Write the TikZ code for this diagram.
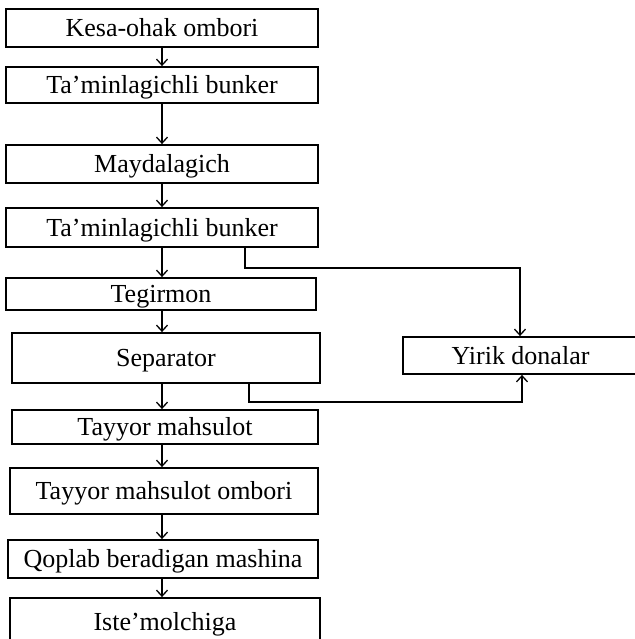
\documentclass[tikz,border=0pt]{standalone}
\usepackage{fontspec}
\setmainfont{Liberation Serif}
\usetikzlibrary{arrows.meta}
\begin{document}
\begin{tikzpicture}[x=1pt,y=1pt,
  box/.style={draw, line width=1.8pt, rectangle, inner sep=0pt, align=center,
    text height=21pt, text depth=3pt,
    font=\fontsize{26}{30}\selectfont},
  flow/.style={line width=1.3pt, -{Straight Barb[length=6pt,width=11pt,line width=1.3pt]}},
  bypass/.style={line width=1.8pt, -{Straight Barb[length=6pt,width=11pt,line width=1.3pt]}}]
\useasboundingbox (0,0) rectangle (634,639);

% process chain (left column)
\node[box, minimum width=312, minimum height=38] (b1) at (162,611) {Kesa-ohak ombori};
\node[box, minimum width=312, minimum height=36] (b2) at (162,554) {Ta'minlagichli bunker};
\node[box, minimum width=312, minimum height=38] (b3) at (162,475) {Maydalagich};
\node[box, minimum width=312, minimum height=39] (b4) at (162,411.5) {Ta'minlagichli bunker};
\node[box, minimum width=310, minimum height=32] (b5) at (161,345) {Tegirmon};
\node[box, minimum width=308, minimum height=50] (b6) at (166,281) {Separator};
\node[box, minimum width=306, minimum height=34] (b7) at (165,212) {Tayyor mahsulot};
\node[box, minimum width=308, minimum height=46] (b8) at (164,148) {Tayyor mahsulot ombori};
\node[box, minimum width=310, minimum height=38] (b9) at (163,80) {Qoplab beradigan mashina};
\node[box, minimum width=310, minimum height=47] (b10) at (165,17.5) {Iste'molchiga};

% side box for coarse fraction
\node[box, minimum width=235, minimum height=37] (yd) at (520.5,283.5) {Yirik donalar};

% main flow arrows
\coordinate (ax) at (162,0);
\foreach \a/\b in {b1/b2,b2/b3,b3/b4,b4/b5,b5/b6,b6/b7,b7/b8,b8/b9,b9/b10}
  \draw[flow] (\a.south -| ax) -- (\b.north -| ax);

% bypass lines to the coarse fraction box
\coordinate (p1) at (245,0);
\coordinate (q1) at (520,0);
\draw[bypass] (b4.south -| p1) -- ++(0,-20) -| (yd.north -| q1);
\coordinate (p2) at (249,0);
\coordinate (q2) at (522,0);
\draw[bypass] (b6.south -| p2) -- ++(0,-18) -| (yd.south -| q2);
\end{tikzpicture}
\end{document}
